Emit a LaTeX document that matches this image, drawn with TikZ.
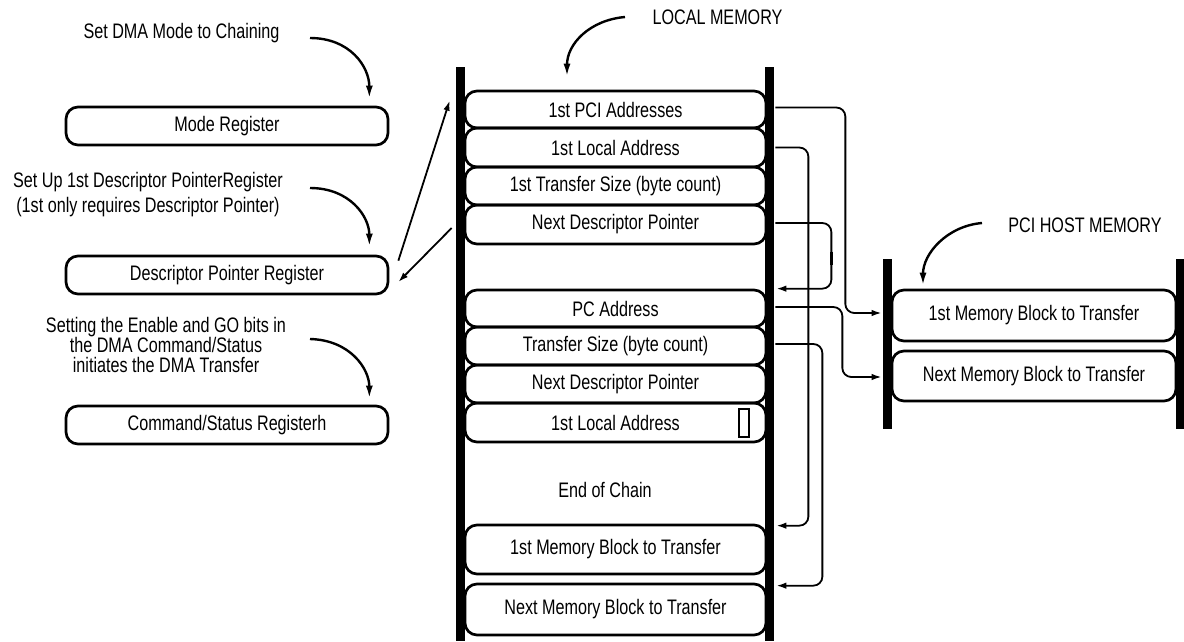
\documentclass[tikz,border=0pt]{standalone}
\usepackage{fontspec}
\setmainfont{Liberation Sans}[FakeStretch=0.77]
\usetikzlibrary{arrows.meta}
\begin{document}
\begin{tikzpicture}[x=1pt,y=-1pt,
  lbl/.style={font=\fontsize{21}{25}\selectfont, inner sep=0pt},
  regbox/.style={lbl, draw, line width=2.7pt, rounded corners=12pt, minimum width=322pt, minimum height=38pt},
  membox/.style={lbl, draw, line width=2.7pt, rounded corners=12pt, minimum width=301pt},
  hostbox/.style={lbl, draw, line width=2.7pt, rounded corners=12pt, minimum width=284pt},
  bar/.style={fill=black},
  conn/.style={line width=1.8pt, rounded corners=9pt, -{Latex[length=10pt,width=6.5pt]}},
  ptr/.style={line width=1.8pt, -{Latex[length=10pt,width=6.5pt]}},
  hint/.style={line width=2.4pt, -{Latex[length=13pt,width=7pt]}}]
\useasboundingbox (0,0) rectangle (1184,641);

% --- registers on the left ---
\node[lbl] (setmode) at (181.5,33) {Set DMA Mode to Chaining};
\node[regbox] (mode) at (227,126) {Mode Register};
\node[lbl, align=center, font=\fontsize{21}{25}\selectfont] (setup) at (148,194.5)
  {Set Up 1st Descriptor PointerRegister\\(1st only requires Descriptor Pointer)};
\node[regbox] (dpr) at (227,275) {Descriptor Pointer Register};
\node[lbl, align=center, font=\fontsize{21}{20}\selectfont] (setting) at (166,345)
  {Setting the Enable and GO bits in\\the DMA Command/Status\\initiates the DMA Transfer};
\node[regbox] (cmd) at (227,425) {Command/Status Registerh};

\coordinate (h1) at (310,38);
\coordinate (h2) at (310,188);
\coordinate (h3) at (310,339);
\draw[hint] (h1) .. controls +(40,0) and +(0,-32) .. ([xshift=-20pt,yshift=7pt]mode.north east);
\draw[hint] (h2) .. controls +(40,0) and +(0,-30) .. ([xshift=-20pt,yshift=8pt]dpr.north east);
\draw[hint] (h3) .. controls +(40,1) and +(0,-30) .. ([xshift=-20pt,yshift=6pt]cmd.north east);

% --- local memory ---
\node[lbl] (localmem) at (717.5,17) {LOCAL MEMORY};
\node[membox, minimum height=37pt] (pciaddr) at (615.5,109.5) {1st PCI Addresses};
\node[membox, minimum height=39pt] (locaddr1) at (615.5,147.5) {1st Local Address};
\node[membox, minimum height=38pt] (size1) at (615.5,186) {1st Transfer Size (byte count)};
\node[membox, minimum height=39pt] (next1) at (615.5,224.5) {Next Descriptor Pointer};
\node[membox, minimum height=37pt] (pcaddr) at (615.5,308.5) {PC Address};
\node[membox, minimum height=38pt] (size2) at (615.5,346) {Transfer Size (byte count)};
\node[membox, minimum height=38pt] (next2) at (615.5,384) {Next Descriptor Pointer};
\node[membox, minimum height=39pt] (locaddr2) at (615.5,422.5) {1st Local Address};
\node[draw, line width=1.6pt, minimum width=10pt, minimum height=28pt, inner sep=0pt] (mark) at (744,423) {};
\node[lbl] (endchain) at (605,490) {End of Chain};
\node[membox, minimum height=49pt] (block1) at (615.5,549.5) {1st Memory Block to Transfer};
\node[membox, minimum height=51pt] (block2) at (615.5,609.5) {Next Memory Block to Transfer};
\fill[bar] (456,67) rectangle (465,641);
\fill[bar] (765,67) rectangle (774,641);

\coordinate (lm) at (625,17);
\draw[hint] (lm) .. controls +(-35,3) and +(0,-33) .. ([xshift=-48.5pt,yshift=13pt]pciaddr.north);

% --- PCI host memory ---
\node[lbl] (hostmem) at (1085,225) {PCI HOST MEMORY};
\node[hostbox, minimum height=51pt] (hb1) at (1034,315.5) {1st Memory Block to Transfer};
\node[hostbox, minimum height=50pt] (hb2) at (1034,376) {Next Memory Block to Transfer};
\fill[bar] (883,259) rectangle (892,429);
\fill[bar] (1176,259) rectangle (1184,429);

\coordinate (hm) at (982,223);
\draw[hint] (hm) .. controls +(-35,3) and +(0,-32) .. ([xshift=-111pt,yshift=3pt]hb1.north);

% --- pointers between register and descriptors ---
\draw[ptr] ([xshift=9pt,yshift=-6pt]dpr.north east) -- ([xshift=-14pt,yshift=-11pt]pciaddr.north west);
\draw[ptr] ([xshift=-12pt,yshift=-3.5pt]next1.west) -- ([xshift=9pt,yshift=-7pt]dpr.east);

% --- descriptor links ---
\draw[conn] ([xshift=8pt,yshift=2pt]pciaddr.east) -- ++(70,0) |- ([xshift=-9pt,yshift=2.5pt]hb1.west);
\draw[conn] ([xshift=8pt]locaddr1.east) -- ++(33,0) |- ([xshift=9pt,yshift=-2pt]block1.north east);
\draw[conn] ([xshift=8pt,yshift=1.5pt]next1.east) -- ++(56,0) |- ([xshift=9pt]pcaddr.north east);
\draw[line width=3.2pt] ([xshift=64pt,yshift=-27pt]next1.east) -- ++(0,13);
\draw[conn] ([xshift=8pt,yshift=1.5pt]pcaddr.east) -- ++(67,0) |- ([xshift=-9pt,yshift=-1pt]hb2.west);
\draw[conn] ([xshift=8pt,yshift=2pt]size2.east) -- ++(47,0) |- ([xshift=9pt,yshift=-3pt]block2.north east);
\end{tikzpicture}
\end{document}
